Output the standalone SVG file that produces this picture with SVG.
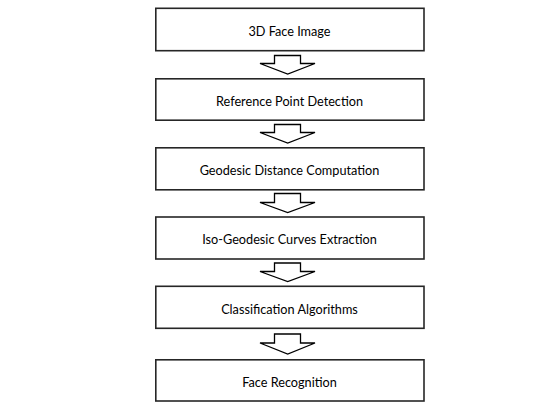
<svg xmlns="http://www.w3.org/2000/svg" width="554" height="415" viewBox="0 0 554 415">
<style>
.box{fill:#fff;stroke:#262626;stroke-width:1.6}
.lbl{font-family:Lato,"Liberation Sans",Arial,sans-serif;font-size:12.7px;fill:#000;text-anchor:middle}
.arr{fill:#fff;stroke:#000;stroke-width:1.3;stroke-linejoin:miter}
</style>
<rect width="554" height="415" fill="#fff"/>
<g id="connectors">
<path class="arr" d="M274.5,55.5 H300.5 V63.5 H315 L287.7,74 L260,63.5 H274.5 Z"/>
<path class="arr" d="M274.5,124.5 H300.5 V132.5 H315 L287.7,143 L260,132.5 H274.5 Z"/>
<path class="arr" d="M274.5,193.5 H300.5 V202.5 H315 L287.7,212.5 L260,202.5 H274.5 Z"/>
<path class="arr" d="M274.5,263 H300.5 V271.5 H315 L287.7,281.5 L260,271.5 H274.5 Z"/>
<path class="arr" d="M274.5,334 H300.5 V343 H315 L287.7,354 L260,343 H274.5 Z"/>
</g>
<g id="n1"><rect class="box" x="155.8" y="8.3" width="268.2" height="42.4"/><text class="lbl" x="289.5" y="35.5">3D Face Image</text></g>
<g id="n2"><rect class="box" x="155.8" y="78.8" width="268.2" height="41.4"/><text class="lbl" x="289.5" y="105.5">Reference Point Detection</text></g>
<g id="n3"><rect class="box" x="155.8" y="147.8" width="268.2" height="42"/><text class="lbl" x="289.5" y="175">Geodesic Distance Computation</text></g>
<g id="n4"><rect class="box" x="155.8" y="217" width="268.2" height="42"/><text class="lbl" x="289.5" y="244">Iso-Geodesic Curves Extraction</text></g>
<g id="n5"><rect class="box" x="155.8" y="286.3" width="268.2" height="42"/><text class="lbl" x="289.5" y="313.5">Classification Algorithms</text></g>
<g id="n6"><rect class="box" x="155.8" y="359.8" width="268.2" height="41.2"/><text class="lbl" x="289.5" y="386.5">Face Recognition</text></g>
</svg>
